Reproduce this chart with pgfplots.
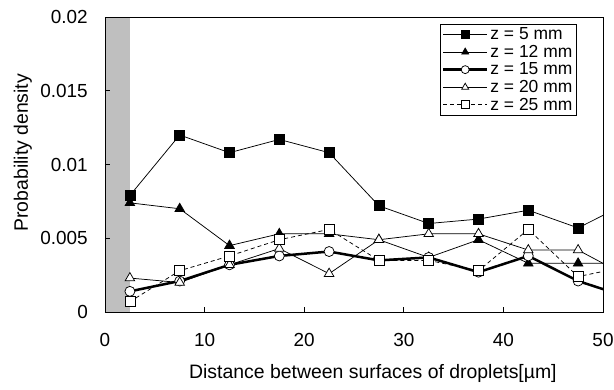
\documentclass[border=0pt]{standalone}
\usepackage{pgfplots}
\pgfplotsset{compat=1.18}
\usepackage{fontspec}
\setmainfont{Liberation Sans}
\begin{document}
\begin{tikzpicture}[x=1bp,y=1bp]
\begin{axis}[
  at={(0,0)}, anchor=south west,
  width=498bp, height=295bp, scale only axis,
  xmin=0, xmax=50, ymin=0, ymax=0.02,
  xtick={0,10,20,30,40,50}, xticklabels={0,10,20,30,40,50},
  ytick={0,0.005,0.01,0.015,0.02}, yticklabels={0,0.005,0.01,0.015,0.02},
  scaled y ticks=false, scaled x ticks=false,
  tick align=inside, xtick pos=bottom, ytick pos=left,
  major tick length=5bp,
  tick style={black, line width=0.75bp},
  axis line style={black, line width=0.75bp},
  axis on top,
  ticklabel style={font=\fontsize{19}{22}\selectfont},
  xticklabel style={yshift=-18bp},
  yticklabel style={xshift=-13.7bp},
  xlabel={Distance between surfaces of droplets[µm]},
  ylabel={Probability density},
  label style={font=\fontsize{19.5}{22}\selectfont},
  xlabel style={at={(axis description cs:0.538,-0.207)}, anchor=center},
  ylabel style={at={(axis description cs:-0.165,0.54)}, anchor=center},
  legend style={at={(axis description cs:0.9458,0.976)}, anchor=north east,
    draw=black, fill=white, font=\fontsize{17.5}{20}\selectfont,
    inner sep=1.5bp, row sep=0bp, cells={anchor=west}},
  legend cell align=left,
  legend image code/.code={\draw[mark=none] (8bp,0bp) -- (52bp,0bp); \draw[only marks, mark size=4bp] plot coordinates {(30bp,0bp)};},
  every axis plot/.append style={line width=0.75bp},
]
\addplot[fill=black!25, draw=none, forget plot] coordinates {(0,0) (2.5,0) (2.5,0.02) (0,0.02)} -- cycle;

\addplot[black, mark=square*, mark size=5bp, mark options={fill=black}, mark indices={1,2,3,4,5,6,7,8,9,10}]
coordinates {(2.5,0.0079)(7.5,0.0120)(12.5,0.0108)(17.5,0.0117)(22.5,0.0108)(27.5,0.0072)(32.5,0.0060)(37.5,0.0063)(42.5,0.0069)(47.5,0.0057)(52.5,0.0074)};
\addlegendentry{z = 5 mm}

\addplot[black, mark=triangle*, mark size=5.5bp, mark options={fill=black}, mark indices={1,2,3,4,5,6,7,8,9,10}]
coordinates {(2.5,0.0074)(7.5,0.0070)(12.5,0.0045)(17.5,0.0053)(22.5,0.0053)(27.5,0.0049)(32.5,0.0037)(37.5,0.0049)(42.5,0.0033)(47.5,0.0033)(52.5,0.0033)};
\addlegendentry{z = 12 mm}

\addplot[black, line width=2.5bp, mark=*, mark size=5bp, mark options={fill=white, line width=0.75bp}, mark indices={1,2,3,4,5,6,7,8,9,10}]
coordinates {(2.5,0.0014)(7.5,0.0021)(12.5,0.0032)(17.5,0.0038)(22.5,0.0041)(27.5,0.0035)(32.5,0.0037)(37.5,0.0027)(42.5,0.0038)(47.5,0.0021)(52.5,0.0010)};
\addlegendentry{z = 15 mm}

\addplot[black, mark=triangle*, mark size=5.5bp, mark options={fill=white}, mark indices={1,2,3,4,5,6,7,8,9,10}]
coordinates {(2.5,0.0023)(7.5,0.0020)(12.5,0.0032)(17.5,0.0043)(22.5,0.0026)(27.5,0.0049)(32.5,0.0053)(37.5,0.0053)(42.5,0.0042)(47.5,0.0042)(52.5,0.0024)};
\addlegendentry{z = 20 mm}

\addplot[black, dash pattern=on 4bp off 3bp, mark=square*, mark size=5bp, mark options={fill=white, solid}, mark indices={1,2,3,4,5,6,7,8,9,10}]
coordinates {(2.5,0.0007)(7.5,0.0028)(12.5,0.0038)(17.5,0.0049)(22.5,0.0056)(27.5,0.0035)(32.5,0.0035)(37.5,0.0028)(42.5,0.0056)(47.5,0.0024)(52.5,0.0031)};
\addlegendentry{z = 25 mm}
\end{axis}
\pgfresetboundingbox
\path (-105,-77) rectangle (509,312);
\end{tikzpicture}
\end{document}
